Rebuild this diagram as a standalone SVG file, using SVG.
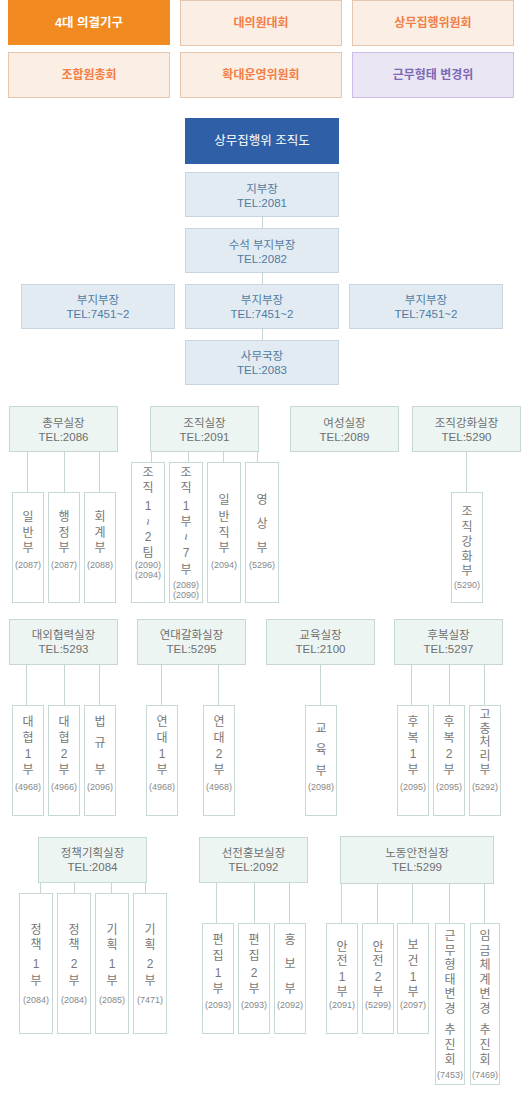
<svg xmlns="http://www.w3.org/2000/svg" width="522" height="1099" viewBox="0 0 522 1099">
<style>
text{font-family:"Liberation Sans","Noto Sans CJK KR",sans-serif;text-anchor:middle;dominant-baseline:central}
.tab{fill:#fbeee5;stroke:#e6c6ac;stroke-width:1}
.tabt{fill:#f27f45;font-size:12px;font-weight:bold}
.tabv{fill:#eae6f3;stroke:#cdbbe8;stroke-width:1}
.tabvt{fill:#7d68b4;font-size:12px;font-weight:bold}
.hd{fill:#e3ebf2;stroke:#c9d6e1;stroke-width:1}
.hdt{fill:#4f7ba2;font-size:11.5px}
.sec{fill:#edf5f3;stroke:#c6d9d4;stroke-width:1}
.sect{fill:#6f6f6f;font-size:11.5px}
.ch{fill:#ffffff;stroke:#c6d9d4;stroke-width:1}
.cht{fill:#777777;font-size:12px}
.ph{fill:#888888;font-size:9px}
.ln{stroke:#c6d6d4;stroke-width:1;fill:none}
</style>

<g id="tabs">
<g id="tab-4dae"><rect x="8" y="0" width="162" height="45" fill="#f28a22"/><text x="89" y="23" fill="#ffffff" font-size="12.5" font-weight="bold">4대 의결기구</text></g>
<g id="tab-daeuiwon"><rect class="tab" x="180.5" y="0.5" width="161" height="45"/><text class="tabt" x="261" y="23">대의원대회</text></g>
<g id="tab-sangmu"><rect class="tab" x="352.5" y="0.5" width="161" height="45"/><text class="tabt" x="433" y="23">상무집행위원회</text></g>
<g id="tab-johab"><rect class="tab" x="8.5" y="52.5" width="161" height="45"/><text class="tabt" x="89" y="75">조합원총회</text></g>
<g id="tab-hwakdae"><rect class="tab" x="180.5" y="52.5" width="161" height="45"/><text class="tabt" x="261" y="75">확대운영위원회</text></g>
<g id="tab-geunmu"><rect class="tabv" x="352.5" y="52.5" width="161" height="45"/><text class="tabvt" x="433" y="75">근무형태 변경위</text></g>
</g>

<g id="connectors">
<line class="ln" x1="262.5" y1="217" x2="262.5" y2="228"/>
<line class="ln" x1="262.5" y1="273" x2="262.5" y2="284"/>
<line class="ln" x1="262.5" y1="329" x2="262.5" y2="340"/>
<line class="ln" x1="27.5" y1="452" x2="27.5" y2="492"/>
<line class="ln" x1="64.5" y1="452" x2="64.5" y2="492"/>
<line class="ln" x1="99.5" y1="452" x2="99.5" y2="492"/>
<line class="ln" x1="151.5" y1="452" x2="151.5" y2="462"/>
<line class="ln" x1="188.5" y1="452" x2="188.5" y2="462"/>
<line class="ln" x1="223.5" y1="452" x2="223.5" y2="462"/>
<line class="ln" x1="257.5" y1="452" x2="257.5" y2="462"/>
<line class="ln" x1="466.5" y1="452" x2="466.5" y2="492"/>
<line class="ln" x1="26.5" y1="665" x2="26.5" y2="705"/>
<line class="ln" x1="64.5" y1="665" x2="64.5" y2="705"/>
<line class="ln" x1="99.5" y1="665" x2="99.5" y2="705"/>
<line class="ln" x1="161.5" y1="665" x2="161.5" y2="705"/>
<line class="ln" x1="218.5" y1="665" x2="218.5" y2="705"/>
<line class="ln" x1="320.5" y1="665" x2="320.5" y2="705"/>
<line class="ln" x1="411.5" y1="665" x2="411.5" y2="705"/>
<line class="ln" x1="449.5" y1="665" x2="449.5" y2="705"/>
<line class="ln" x1="484.5" y1="665" x2="484.5" y2="705"/>
<line class="ln" x1="40.5" y1="883" x2="40.5" y2="893"/>
<line class="ln" x1="74.5" y1="883" x2="74.5" y2="893"/>
<line class="ln" x1="111.5" y1="883" x2="111.5" y2="893"/>
<line class="ln" x1="145.5" y1="883" x2="145.5" y2="893"/>
<line class="ln" x1="216.5" y1="883" x2="216.5" y2="923"/>
<line class="ln" x1="254.5" y1="883" x2="254.5" y2="923"/>
<line class="ln" x1="289.5" y1="883" x2="289.5" y2="923"/>
<line class="ln" x1="341.5" y1="884" x2="341.5" y2="923"/>
<line class="ln" x1="377.5" y1="884" x2="377.5" y2="923"/>
<line class="ln" x1="412.5" y1="884" x2="412.5" y2="923"/>
<line class="ln" x1="449.5" y1="884" x2="449.5" y2="923"/>
<line class="ln" x1="484.5" y1="884" x2="484.5" y2="923"/>
</g>

<g id="title"><rect x="185" y="118" width="154" height="46" fill="#2f5fa7"/><text x="262" y="141" fill="#ffffff" font-size="12.5">상무집행위 조직도</text></g>
<g id="jibujang"><rect class="hd" x="185.5" y="172.5" width="153" height="44"/><text class="hdt" x="262" y="188.5">지부장</text><text class="hdt" x="262" y="202.5">TEL:2081</text></g>
<g id="suseok"><rect class="hd" x="185.5" y="228.5" width="153" height="44"/><text class="hdt" x="262" y="244.5">수석 부지부장</text><text class="hdt" x="262" y="258.5">TEL:2082</text></g>
<g id="bu-left"><rect class="hd" x="21.5" y="284.5" width="153" height="44"/><text class="hdt" x="98" y="300">부지부장</text><text class="hdt" x="98" y="314">TEL:7451~2</text></g>
<g id="bu-center"><rect class="hd" x="185.5" y="284.5" width="153" height="44"/><text class="hdt" x="262" y="300">부지부장</text><text class="hdt" x="262" y="314">TEL:7451~2</text></g>
<g id="bu-right"><rect class="hd" x="349.5" y="284.5" width="153" height="44"/><text class="hdt" x="426" y="300">부지부장</text><text class="hdt" x="426" y="314">TEL:7451~2</text></g>
<g id="samu"><rect class="hd" x="185.5" y="340.5" width="153" height="44"/><text class="hdt" x="262" y="356">사무국장</text><text class="hdt" x="262" y="370">TEL:2083</text></g>

<g id="chongmu"><rect class="sec" x="9.5" y="406.5" width="108" height="45"/><text class="sect" x="63.5" y="422.5">총무실장</text><text class="sect" x="63.5" y="436.5">TEL:2086</text></g>
<g id="jojik"><rect class="sec" x="150.5" y="406.5" width="108" height="45"/><text class="sect" x="204.5" y="422.5">조직실장</text><text class="sect" x="204.5" y="436.5">TEL:2091</text></g>
<g id="yeoseong"><rect class="sec" x="290.5" y="406.5" width="108" height="45"/><text class="sect" x="344.5" y="422.5">여성실장</text><text class="sect" x="344.5" y="436.5">TEL:2089</text></g>
<g id="ganghwa"><rect class="sec" x="412.5" y="406.5" width="108" height="45"/><text class="sect" x="466.5" y="422.5">조직강화실장</text><text class="sect" x="466.5" y="436.5">TEL:5290</text></g>

<g id="ilban"><rect class="ch" x="12.5" y="492.5" width="31" height="110"/><text class="cht"><tspan x="28" y="517">일</tspan><tspan x="28" y="532.5">반</tspan><tspan x="28" y="548">부</tspan></text><text class="ph" x="28" y="564.5">(2087)</text></g>
<g id="haengjeong"><rect class="ch" x="48.5" y="492.5" width="31" height="110"/><text class="cht"><tspan x="64" y="517">행</tspan><tspan x="64" y="532.5">정</tspan><tspan x="64" y="548">부</tspan></text><text class="ph" x="64" y="564.5">(2087)</text></g>
<g id="hoegye"><rect class="ch" x="84.5" y="492.5" width="31" height="110"/><text class="cht"><tspan x="100" y="517">회</tspan><tspan x="100" y="532.5">계</tspan><tspan x="100" y="548">부</tspan></text><text class="ph" x="100" y="564.5">(2088)</text></g>

<g id="jojik12"><rect class="ch" x="131.5" y="462.5" width="33" height="140"/><text class="cht"><tspan x="148" y="472.5">조</tspan><tspan x="148" y="487.5">직</tspan><tspan x="148" y="506">1</tspan><tspan x="148" y="536.5">2</tspan><tspan x="148" y="553">팀</tspan></text><text class="cht" font-size="9" transform="rotate(90 148 522)" x="148" y="522">~</text><text class="ph" x="148" y="564.5">(2090)</text><text class="ph" x="148" y="574.5">(2094)</text></g>
<g id="jojik17"><rect class="ch" x="169.5" y="462.5" width="33" height="140"/><text class="cht"><tspan x="186" y="472.5">조</tspan><tspan x="186" y="487.5">직</tspan><tspan x="186" y="506">1</tspan><tspan x="186" y="521.5">부</tspan><tspan x="186" y="553">7</tspan><tspan x="186" y="569.5">부</tspan></text><text class="cht" font-size="9" transform="rotate(90 186 537)" x="186" y="537">~</text><text class="ph" x="186" y="584.5">(2089)</text><text class="ph" x="186" y="595">(2090)</text></g>
<g id="ilbanjik"><rect class="ch" x="207.5" y="462.5" width="33" height="140"/><text class="cht"><tspan x="224" y="500">일</tspan><tspan x="224" y="517">반</tspan><tspan x="224" y="532.5">직</tspan><tspan x="224" y="548">부</tspan></text><text class="ph" x="224" y="564.5">(2094)</text></g>
<g id="yeongsang"><rect class="ch" x="245.5" y="462.5" width="33" height="140"/><text class="cht"><tspan x="262" y="500">영</tspan><tspan x="262" y="524">상</tspan><tspan x="262" y="548">부</tspan></text><text class="ph" x="262" y="564.5">(5296)</text></g>
<g id="ganghwabu"><rect class="ch" x="451.5" y="492.5" width="31" height="110"/><text class="cht"><tspan x="467" y="511.5">조</tspan><tspan x="467" y="527">직</tspan><tspan x="467" y="542">강</tspan><tspan x="467" y="556.5">화</tspan><tspan x="467" y="570.5">부</tspan></text><text class="ph" x="467" y="585">(5290)</text></g>

<g id="daeoe"><rect class="sec" x="9.5" y="619.5" width="108" height="45"/><text class="sect" x="63.5" y="635">대외협력실장</text><text class="sect" x="63.5" y="649">TEL:5293</text></g>
<g id="yeondae"><rect class="sec" x="137.5" y="619.5" width="108" height="45"/><text class="sect" x="191.5" y="635">연대갈화실장</text><text class="sect" x="191.5" y="649">TEL:5295</text></g>
<g id="gyoyuk"><rect class="sec" x="266.5" y="619.5" width="108" height="45"/><text class="sect" x="320.5" y="635">교육실장</text><text class="sect" x="320.5" y="649">TEL:2100</text></g>
<g id="hubok"><rect class="sec" x="394.5" y="619.5" width="108" height="45"/><text class="sect" x="448.5" y="635">후복실장</text><text class="sect" x="448.5" y="649">TEL:5297</text></g>

<g id="daehyeop1"><rect class="ch" x="12.5" y="705.5" width="31" height="110"/><text class="cht"><tspan x="28" y="721.5">대</tspan><tspan x="28" y="737.5">협</tspan><tspan x="28" y="754">1</tspan><tspan x="28" y="770">부</tspan></text><text class="ph" x="28" y="786.5">(4968)</text></g>
<g id="daehyeop2"><rect class="ch" x="48.5" y="705.5" width="31" height="110"/><text class="cht"><tspan x="64" y="721.5">대</tspan><tspan x="64" y="737.5">협</tspan><tspan x="64" y="754">2</tspan><tspan x="64" y="770">부</tspan></text><text class="ph" x="64" y="786.5">(4966)</text></g>
<g id="beopgyu"><rect class="ch" x="84.5" y="705.5" width="31" height="110"/><text class="cht"><tspan x="100" y="721.5">법</tspan><tspan x="100" y="743">규</tspan><tspan x="100" y="770">부</tspan></text><text class="ph" x="100" y="786.5">(2096)</text></g>
<g id="yeondae1"><rect class="ch" x="146.5" y="705.5" width="31" height="110"/><text class="cht"><tspan x="162" y="721.5">연</tspan><tspan x="162" y="737.5">대</tspan><tspan x="162" y="754">1</tspan><tspan x="162" y="770">부</tspan></text><text class="ph" x="162" y="786.5">(4968)</text></g>
<g id="yeondae2"><rect class="ch" x="203.5" y="705.5" width="31" height="110"/><text class="cht"><tspan x="219" y="721.5">연</tspan><tspan x="219" y="737.5">대</tspan><tspan x="219" y="754">2</tspan><tspan x="219" y="770">부</tspan></text><text class="ph" x="219" y="786.5">(4968)</text></g>
<g id="gyoyukbu"><rect class="ch" x="305.5" y="705.5" width="31" height="110"/><text class="cht"><tspan x="321" y="728.5">교</tspan><tspan x="321" y="749.5">육</tspan><tspan x="321" y="770.5">부</tspan></text><text class="ph" x="321" y="786.5">(2098)</text></g>
<g id="hubok1"><rect class="ch" x="397.5" y="705.5" width="31" height="110"/><text class="cht"><tspan x="413" y="721.5">후</tspan><tspan x="413" y="737.5">복</tspan><tspan x="413" y="754">1</tspan><tspan x="413" y="770">부</tspan></text><text class="ph" x="413" y="786.5">(2095)</text></g>
<g id="hubok2"><rect class="ch" x="433.5" y="705.5" width="31" height="110"/><text class="cht"><tspan x="449" y="721.5">후</tspan><tspan x="449" y="737.5">복</tspan><tspan x="449" y="754">2</tspan><tspan x="449" y="770">부</tspan></text><text class="ph" x="449" y="786.5">(2095)</text></g>
<g id="gochung"><rect class="ch" x="469.5" y="705.5" width="31" height="110"/><text class="cht"><tspan x="485" y="714.5">고</tspan><tspan x="485" y="728.5">충</tspan><tspan x="485" y="742">처</tspan><tspan x="485" y="756">리</tspan><tspan x="485" y="770">부</tspan></text><text class="ph" x="485" y="786.5">(5292)</text></g>

<g id="jeongchaek"><rect class="sec" x="38.5" y="837.5" width="108" height="45"/><text class="sect" x="92.5" y="853">정책기획실장</text><text class="sect" x="92.5" y="867">TEL:2084</text></g>
<g id="seonjeon"><rect class="sec" x="199.5" y="837.5" width="108" height="45"/><text class="sect" x="253.5" y="853">선전홍보실장</text><text class="sect" x="253.5" y="867">TEL:2092</text></g>
<g id="nodong"><rect class="sec" x="340.5" y="836.5" width="153" height="47"/><text class="sect" x="417" y="853">노동안전실장</text><text class="sect" x="417" y="867">TEL:5299</text></g>

<g id="jeongchaek1"><rect class="ch" x="19.5" y="893.5" width="33" height="140"/><text class="cht"><tspan x="36" y="930">정</tspan><tspan x="36" y="945">책</tspan><tspan x="36" y="963.5">1</tspan><tspan x="36" y="980.5">부</tspan></text><text class="ph" x="36" y="1000">(2084)</text></g>
<g id="jeongchaek2"><rect class="ch" x="57.5" y="893.5" width="33" height="140"/><text class="cht"><tspan x="74" y="930">정</tspan><tspan x="74" y="945">책</tspan><tspan x="74" y="963.5">2</tspan><tspan x="74" y="980.5">부</tspan></text><text class="ph" x="74" y="1000">(2084)</text></g>
<g id="gihoek1"><rect class="ch" x="95.5" y="893.5" width="33" height="140"/><text class="cht"><tspan x="112" y="930">기</tspan><tspan x="112" y="945">획</tspan><tspan x="112" y="963.5">1</tspan><tspan x="112" y="980.5">부</tspan></text><text class="ph" x="112" y="1000">(2085)</text></g>
<g id="gihoek2"><rect class="ch" x="133.5" y="893.5" width="33" height="140"/><text class="cht"><tspan x="150" y="930">기</tspan><tspan x="150" y="945">획</tspan><tspan x="150" y="963.5">2</tspan><tspan x="150" y="980.5">부</tspan></text><text class="ph" x="150" y="1000">(7471)</text></g>
<g id="pyeonjip1"><rect class="ch" x="202.5" y="923.5" width="31" height="110"/><text class="cht"><tspan x="218" y="940">편</tspan><tspan x="218" y="956">집</tspan><tspan x="218" y="973">1</tspan><tspan x="218" y="989">부</tspan></text><text class="ph" x="218" y="1005">(2093)</text></g>
<g id="pyeonjip2"><rect class="ch" x="238.5" y="923.5" width="31" height="110"/><text class="cht"><tspan x="254" y="940">편</tspan><tspan x="254" y="956">집</tspan><tspan x="254" y="973">2</tspan><tspan x="254" y="989">부</tspan></text><text class="ph" x="254" y="1005">(2093)</text></g>
<g id="hongbo"><rect class="ch" x="274.5" y="923.5" width="31" height="110"/><text class="cht"><tspan x="290" y="940">홍</tspan><tspan x="290" y="964">보</tspan><tspan x="290" y="989">부</tspan></text><text class="ph" x="290" y="1005">(2092)</text></g>
<g id="anjeon1"><rect class="ch" x="326.5" y="923.5" width="31" height="110"/><text class="cht"><tspan x="342" y="946.5">안</tspan><tspan x="342" y="961">전</tspan><tspan x="342" y="976.5">1</tspan><tspan x="342" y="991.5">부</tspan></text><text class="ph" x="342" y="1005">(2091)</text></g>
<g id="anjeon2"><rect class="ch" x="362.5" y="923.5" width="31" height="110"/><text class="cht"><tspan x="378" y="946.5">안</tspan><tspan x="378" y="961">전</tspan><tspan x="378" y="976.5">2</tspan><tspan x="378" y="991.5">부</tspan></text><text class="ph" x="378" y="1005">(5299)</text></g>
<g id="bogeon1"><rect class="ch" x="397.5" y="923.5" width="31" height="110"/><text class="cht"><tspan x="413" y="945">보</tspan><tspan x="413" y="961">건</tspan><tspan x="413" y="976.5">1</tspan><tspan x="413" y="991.5">부</tspan></text><text class="ph" x="413" y="1005">(2097)</text></g>
<g id="geunmu"><rect class="ch" x="435.5" y="923.5" width="29" height="161"/><text class="cht"><tspan x="450" y="936">근</tspan><tspan x="450" y="950.5">무</tspan><tspan x="450" y="965">형</tspan><tspan x="450" y="979.5">태</tspan><tspan x="450" y="994">변</tspan><tspan x="450" y="1008.5">경</tspan><tspan x="450" y="1030">추</tspan><tspan x="450" y="1044.5">진</tspan><tspan x="450" y="1059.5">회</tspan></text><text class="ph" x="450" y="1074.5">(7453)</text></g>
<g id="imgeum"><rect class="ch" x="470.5" y="923.5" width="29" height="161"/><text class="cht"><tspan x="485" y="936">임</tspan><tspan x="485" y="950.5">금</tspan><tspan x="485" y="965">체</tspan><tspan x="485" y="979.5">계</tspan><tspan x="485" y="994">변</tspan><tspan x="485" y="1008.5">경</tspan><tspan x="485" y="1030">추</tspan><tspan x="485" y="1044.5">진</tspan><tspan x="485" y="1059.5">회</tspan></text><text class="ph" x="485" y="1074.5">(7469)</text></g>
</svg>
